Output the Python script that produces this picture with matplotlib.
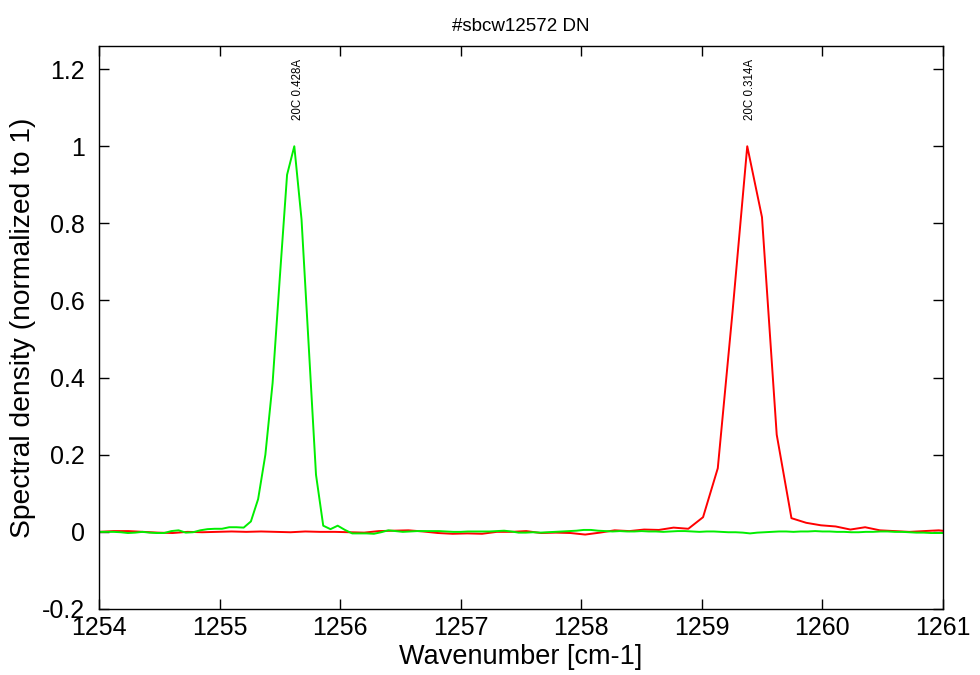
import numpy as np
from matplotlib import pyplot as plt

plt.rcParams['font.family'] = ['Liberation Sans', 'DejaVu Sans']

# green spectrum (20C 0.428A), grid step 0.06
green_start = 1254.0
green_step = 0.06
green_y = [0.0, 0.0, 0.0, -0.001, -0.003, -0.002, 0.0, -0.002, -0.003, -0.003,
           0.002, 0.004, -0.002, -0.001, 0.004, 0.007, 0.008, 0.008, 0.012, 0.012,
           0.011, 0.027, 0.085, 0.2, 0.386, 0.66, 0.926, 1.0, 0.81, 0.48,
           0.148, 0.016, 0.007, 0.016, 0.005, -0.004, -0.004, -0.004, -0.005, -0.001,
           0.004, 0.002, 0.0, 0.001, 0.002, 0.002, 0.002, 0.002, 0.001, 0.0,
           0.0, 0.001, 0.001, 0.001, 0.001, 0.002, 0.003, 0.001, -0.002, -0.002,
           -0.001, -0.002, -0.001, 0.0, 0.001, 0.002, 0.003, 0.005, 0.005, 0.003,
           0.002, 0.001, 0.002, 0.001, 0.001, 0.002, 0.001, 0.001, 0.0, 0.001,
           0.002, 0.002, 0.001, 0.0, 0.001, 0.001, 0.0, -0.001, -0.001, -0.002,
           -0.004, -0.002, -0.001, 0.0, 0.001, 0.001, 0.0, 0.001, 0.001, 0.002,
           0.001, 0.001, 0.0, 0.0, -0.001, -0.001, 0.0, 0.0, 0.001, 0.001,
           0.0, 0.0, -0.001, -0.002, -0.002, -0.003, -0.003, -0.003]

# red spectrum (20C 0.314A), grid step ~0.122
red_start = 1254.0
red_step = 0.1222
red_y = [0.0, 0.002, 0.002, 0.0, -0.002, -0.003, 0.0, -0.001, 0.0, 0.001,
         0.0, 0.001, 0.0, -0.001, 0.001, 0.0, 0.0, -0.001, -0.002, 0.002,
         0.003, 0.004, 0.001, -0.003, -0.005, -0.004, -0.005, 0.0, 0.0, 0.002,
         -0.003, -0.002, -0.003, -0.007, -0.002, 0.004, 0.002, 0.006, 0.005, 0.011,
         0.008, 0.038, 0.165, 0.57, 1.0, 0.816, 0.252, 0.0355, 0.0235, 0.017,
         0.014, 0.006, 0.012, 0.004, 0.002, 0.0, 0.002, 0.004, 0.0]

labels = ["20C 0.428A", "20C 0.314A"]
peaks = [1255.62, 1259.37]

green_x = green_start + green_step * np.arange(len(green_y))
red_x = red_start + red_step * np.arange(len(red_y))

fig = plt.figure(figsize=(9.8, 6.75), dpi=100)
ax = fig.add_axes([0.101, 0.0978, 0.8612, 0.8341])

ax.plot(red_x, red_y, color="#ff0000", lw=1.4)
ax.plot(green_x, green_y, color="#00ee00", lw=1.4)

for px, lab in zip(peaks, labels):
    ax.text(px + 0.03, 1.068, lab, rotation=90, ha="center", va="bottom", fontsize=8.3)

ax.set_xlim(1254, 1261)
ax.set_ylim(-0.2, 1.26)
ax.set_yticks([-0.2, 0, 0.2, 0.4, 0.6, 0.8, 1, 1.2])
ax.set_yticklabels(["-0.2", "0", "0.2", "0.4", "0.6", "0.8", "1", "1.2"])
ax.tick_params(direction="in", length=7, width=1, top=True, right=True, labelsize=18)
ax.tick_params(axis="x", pad=5)
ax.tick_params(axis="y", pad=10)
for s in ax.spines.values():
    s.set_linewidth(1)

ax.set_xlabel("Wavenumber [cm-1]", fontsize=19.5, labelpad=3)
ax.set_ylabel("Spectral density (normalized to 1)", fontsize=20.3, labelpad=4)
ax.set_title("#sbcw12572 DN", fontsize=13.5, pad=11)

plt.savefig("out.png", dpi=100)
